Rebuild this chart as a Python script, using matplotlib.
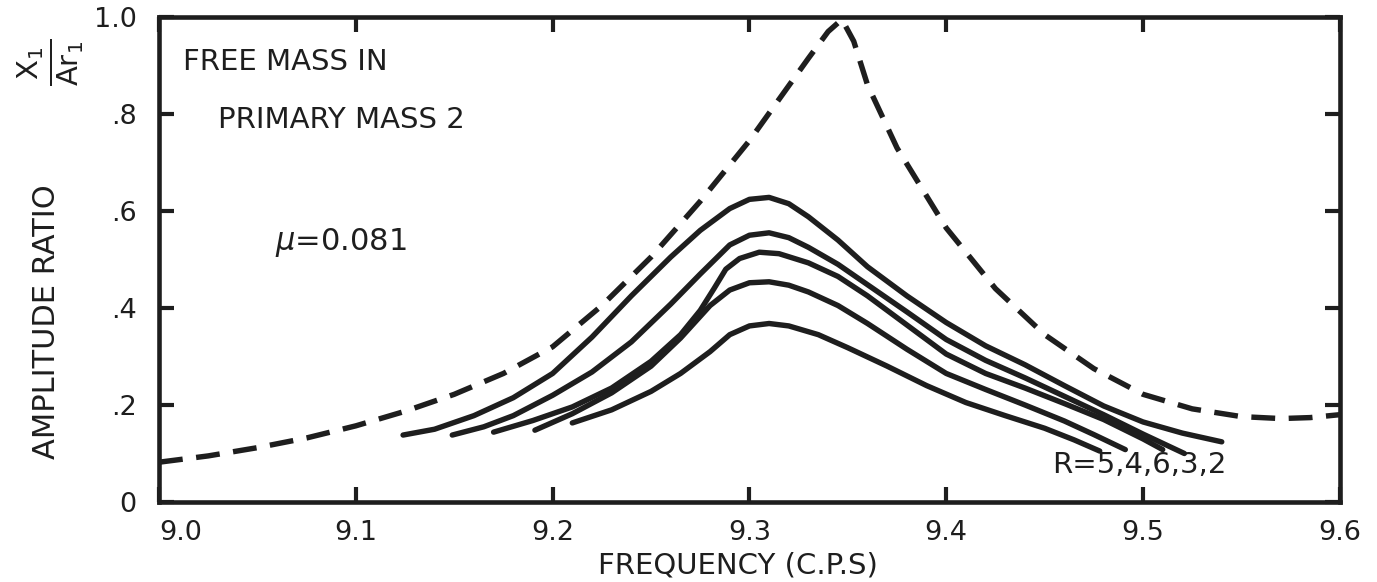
import matplotlib.pyplot as plt

# Free mass in primary mass 2, mu = 0.081
# dashed curve: response without absorber
freq_free = [9.000, 9.025, 9.050, 9.075, 9.100, 9.125, 9.150, 9.175, 9.200, 9.225,
             9.250, 9.275, 9.300, 9.315, 9.330, 9.340, 9.347, 9.353, 9.360, 9.375,
             9.400, 9.425, 9.450, 9.475, 9.500, 9.525, 9.550, 9.570, 9.585, 9.600]
amp_free = [0.082, 0.095, 0.112, 0.132, 0.157, 0.187, 0.222, 0.265, 0.320, 0.405,
            0.505, 0.620, 0.745, 0.830, 0.915, 0.970, 0.995, 0.950, 0.860, 0.730,
            0.565, 0.440, 0.345, 0.275, 0.222, 0.192, 0.176, 0.172, 0.174, 0.180]

# solid curves, from highest peak to lowest
freq_r1 = [9.124, 9.140, 9.160, 9.180, 9.200, 9.220, 9.240, 9.260, 9.275, 9.290,
           9.300, 9.310, 9.320, 9.330, 9.345, 9.360, 9.380, 9.400, 9.420, 9.440,
           9.460, 9.480, 9.500, 9.520, 9.540]
amp_r1 = [0.138, 0.150, 0.178, 0.215, 0.265, 0.340, 0.425, 0.505, 0.560, 0.605,
          0.624, 0.628, 0.615, 0.588, 0.540, 0.485, 0.425, 0.370, 0.322, 0.283,
          0.240, 0.198, 0.165, 0.142, 0.124]

freq_r2 = [9.149, 9.165, 9.180, 9.200, 9.220, 9.240, 9.260, 9.275, 9.290, 9.300,
           9.310, 9.320, 9.330, 9.345, 9.360, 9.380, 9.400, 9.420, 9.440, 9.460,
           9.480, 9.500, 9.521]
amp_r2 = [0.138, 0.155, 0.178, 0.220, 0.268, 0.330, 0.408, 0.470, 0.530, 0.550,
          0.555, 0.545, 0.525, 0.490, 0.448, 0.392, 0.335, 0.292, 0.256, 0.218,
          0.180, 0.140, 0.100]

freq_r3 = [9.170, 9.190, 9.210, 9.230, 9.250, 9.265, 9.275, 9.282, 9.288, 9.295,
           9.305, 9.315, 9.330, 9.345, 9.360, 9.380, 9.400, 9.420, 9.440, 9.460,
           9.480, 9.500, 9.510]
amp_r3 = [0.144, 0.168, 0.196, 0.235, 0.290, 0.345, 0.395, 0.440, 0.480, 0.502,
          0.515, 0.512, 0.493, 0.465, 0.425, 0.365, 0.305, 0.265, 0.235, 0.203,
          0.170, 0.130, 0.108]

freq_r4 = [9.191, 9.210, 9.230, 9.250, 9.265, 9.280, 9.290, 9.300, 9.310, 9.320,
           9.330, 9.345, 9.360, 9.380, 9.400, 9.420, 9.440, 9.460, 9.475, 9.491]
amp_r4 = [0.148, 0.182, 0.225, 0.280, 0.338, 0.405, 0.437, 0.452, 0.454, 0.447,
          0.433, 0.405, 0.368, 0.315, 0.265, 0.232, 0.200, 0.167, 0.139, 0.108]

freq_r5 = [9.210, 9.230, 9.250, 9.265, 9.280, 9.290, 9.300, 9.310, 9.320, 9.335,
           9.350, 9.370, 9.390, 9.410, 9.430, 9.450, 9.465, 9.478]
amp_r5 = [0.163, 0.190, 0.228, 0.265, 0.310, 0.345, 0.363, 0.368, 0.363, 0.345,
          0.318, 0.280, 0.240, 0.205, 0.178, 0.152, 0.128, 0.105]

x_ticks = [9.0, 9.1, 9.2, 9.3, 9.4, 9.5, 9.6]
x_labels = ['9.0', '9.1', '9.2', '9.3', '9.4', '9.5', '9.6']
y_ticks = [0.0, 0.2, 0.4, 0.6, 0.8, 1.0]
y_labels = ['0', '.2', '.4', '.6', '.8', '1.0']

ink = '#1e1e1e'
plt.rcParams['font.family'] = ['DejaVu Sans']

fig = plt.figure(figsize=(13.77, 5.82), dpi=100)
ax = fig.add_axes([0.1155, 0.1375, 0.8575, 0.8333])

ax.plot(freq_free, amp_free, color=ink, lw=3.9, dashes=(4.4, 2.5),
        dash_capstyle='butt', solid_joinstyle='round')
for f, a in [(freq_r1, amp_r1), (freq_r2, amp_r2), (freq_r3, amp_r3),
             (freq_r4, amp_r4), (freq_r5, amp_r5)]:
    ax.plot(f, a, color=ink, lw=3.9, solid_capstyle='round', solid_joinstyle='round')

ax.set_xlim(9.0, 9.6)
ax.set_ylim(0, 1.0)
ax.set_xticks(x_ticks)
ax.set_xticklabels(x_labels)
ax.set_yticks(y_ticks)
ax.set_yticklabels(y_labels)
ax.tick_params(direction='in', length=11, width=3, color=ink, labelsize=19.5,
               labelcolor=ink, top=True, right=True)
ax.tick_params(axis='x', pad=13)
ax.tick_params(axis='y', pad=16)
ax.get_xticklabels()[0].set_ha('left')
for s in ax.spines.values():
    s.set_linewidth(3.3)
    s.set_color(ink)

ax.set_xlabel('FREQUENCY (C.P.S)', fontsize=21, color=ink)
ax.set_ylabel('AMPLITUDE RATIO', fontsize=22, color=ink)
ax.yaxis.set_label_coords(-0.083, 0.371)
ax.xaxis.set_label_coords(0.49, -0.103)

fig.text(0.037, 0.893, r'$\frac{\mathsf{X_1}}{\mathsf{Ar_1}}$', rotation=90,
         fontsize=30, color=ink, ha='center', va='center')

ax.text(9.012, 0.907, 'FREE MASS IN', fontsize=21, color=ink, va='center')
ax.text(9.030, 0.788, 'PRIMARY MASS 2', fontsize=21, color=ink, va='center')
ax.text(9.059, 0.536, r'$\mathit{\mu}$=0.081', fontsize=22, color=ink, va='center')
ax.text(9.454, 0.076, 'R=5,4,6,3,2', fontsize=21, color=ink, va='center')

fig.savefig('out.png', dpi=100)
